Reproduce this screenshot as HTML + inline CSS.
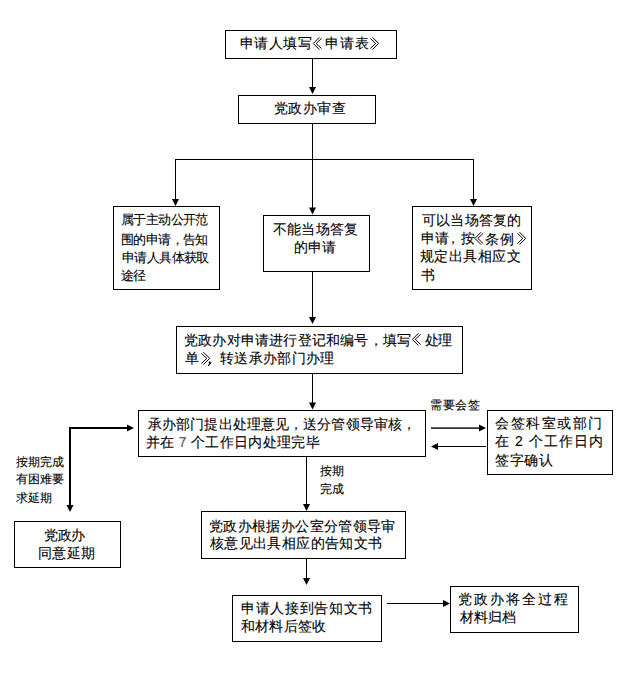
<!DOCTYPE html>
<html><head><meta charset="utf-8"><style>
html,body{margin:0;padding:0;background:#fff;}
body{width:629px;height:678px;position:relative;overflow:hidden;font-family:"Liberation Sans",sans-serif;color:#000;}
svg{position:absolute;left:0;top:0;}
.t{position:absolute;white-space:nowrap;line-height:20px;-webkit-text-stroke:0.1px #000;}
</style></head><body>
<svg width="629" height="678" viewBox="0 0 629 678">
<rect x="225.5" y="30.5" width="171" height="28" fill="none" stroke="#000" stroke-width="1"/>
<rect x="238.5" y="95.5" width="137" height="28" fill="none" stroke="#000" stroke-width="1"/>
<rect x="113.5" y="206.5" width="106" height="83" fill="none" stroke="#000" stroke-width="1"/>
<rect x="263.5" y="215.5" width="106" height="56" fill="none" stroke="#000" stroke-width="1"/>
<rect x="412.5" y="206.5" width="119" height="83" fill="none" stroke="#000" stroke-width="1"/>
<rect x="176.5" y="326.5" width="286" height="47" fill="none" stroke="#000" stroke-width="1"/>
<rect x="138.5" y="410.5" width="287" height="46" fill="none" stroke="#000" stroke-width="1"/>
<rect x="487.5" y="410.5" width="125" height="64" fill="none" stroke="#000" stroke-width="1"/>
<rect x="14.5" y="521.5" width="106" height="46" fill="none" stroke="#000" stroke-width="1"/>
<rect x="201.5" y="511.5" width="204" height="47" fill="none" stroke="#000" stroke-width="1"/>
<rect x="232.5" y="595.5" width="149" height="46" fill="none" stroke="#000" stroke-width="1"/>
<rect x="450.5" y="586.5" width="128" height="46" fill="none" stroke="#000" stroke-width="1"/>
<rect x="312" y="58" width="1" height="31" fill="#000"/>
<rect x="312" y="123" width="1" height="86" fill="#000"/>
<rect x="175" y="159" width="299" height="1" fill="#000"/>
<rect x="175" y="159" width="1" height="42" fill="#000"/>
<rect x="473" y="159" width="1" height="42" fill="#000"/>
<rect x="312" y="271" width="1" height="48" fill="#000"/>
<rect x="312" y="373" width="1" height="31" fill="#000"/>
<rect x="431" y="427.4" width="50" height="1.4" fill="#000"/>
<rect x="437" y="446" width="49" height="1" fill="#000"/>
<rect x="69" y="427" width="60" height="2" fill="#000"/>
<rect x="69" y="427" width="2" height="80" fill="#000"/>
<rect x="306" y="456" width="1" height="50" fill="#000"/>
<rect x="306" y="558" width="1" height="22" fill="#000"/>
<rect x="387" y="603" width="58" height="1" fill="#000"/>
<polygon points="309.0,87 316.0,87 312.5,94" fill="#000"/>
<polygon points="309.0,207.5 316.0,207.5 312.5,214.5" fill="#000"/>
<polygon points="172.0,199 179.0,199 175.5,206" fill="#000"/>
<polygon points="470.0,199 477.0,199 473.5,206" fill="#000"/>
<polygon points="309.0,317 316.0,317 312.5,324" fill="#000"/>
<polygon points="309.0,402.5 316.0,402.5 312.5,409.5" fill="#000"/>
<polygon points="479,424.5 479,431.5 486,428" fill="#000"/>
<polygon points="438,443.0 438,450.0 431,446.5" fill="#000"/>
<polygon points="127,424.5 127,431.5 134,428" fill="#000"/>
<polygon points="66.5,505 73.5,505 70,512" fill="#000"/>
<polygon points="303.0,504 310.0,504 306.5,511" fill="#000"/>
<polygon points="303.0,578 310.0,578 306.5,585" fill="#000"/>
<polygon points="443,600.0 443,607.0 450,603.5" fill="#000"/>
<polyline points="319.45,37.25 313.25,43.45 319.45,49.650000000000006" fill="none" stroke="#000" stroke-width="1"/>
<polyline points="321.55,38.35 316.15,43.45 321.55,48.550000000000004" fill="none" stroke="#000" stroke-width="1"/>
<polyline points="372.40000000000003,37.25 378.6,43.45 372.40000000000003,49.650000000000006" fill="none" stroke="#000" stroke-width="1"/>
<polyline points="370.3,38.35 375.70000000000005,43.45 370.3,48.550000000000004" fill="none" stroke="#000" stroke-width="1"/>
<polyline points="481.09999999999997,232.20000000000002 474.9,238.4 481.09999999999997,244.6" fill="none" stroke="#000" stroke-width="1"/>
<polyline points="483.2,233.3 477.79999999999995,238.4 483.2,243.5" fill="none" stroke="#000" stroke-width="1"/>
<polyline points="519.5,232.20000000000002 525.7,238.4 519.5,244.6" fill="none" stroke="#000" stroke-width="1"/>
<polyline points="517.4000000000001,233.3 522.8000000000001,238.4 517.4000000000001,243.5" fill="none" stroke="#000" stroke-width="1"/>
<polyline points="418.5,333.2 412.3,339.4 418.5,345.59999999999997" fill="none" stroke="#000" stroke-width="1"/>
<polyline points="420.6,334.29999999999995 415.2,339.4 420.6,344.5" fill="none" stroke="#000" stroke-width="1"/>
<polyline points="203.5,352.2 209.7,358.4 203.5,364.59999999999997" fill="none" stroke="#000" stroke-width="1"/>
<polyline points="201.39999999999998,353.29999999999995 206.79999999999998,358.4 201.39999999999998,363.5" fill="none" stroke="#000" stroke-width="1"/>
<circle cx="209.9" cy="362.6" r="1.2" fill="#000"/><path d="M210.6,362.8 L208.2,365.8" stroke="#000" stroke-width="1.1" fill="none"/>
</svg>
<div class="t" style="left:240px;top:33px;font-size:14px;letter-spacing:0.45px">申请人填写</div>
<div class="t" style="left:325px;top:33px;font-size:14px;letter-spacing:1.0px">申请表</div>
<div class="t" style="left:274px;top:98px;font-size:14px;letter-spacing:0.45px">党政办审查</div>
<div class="t" style="left:121px;top:210px;font-size:13px;letter-spacing:-0.6px">属于主动公开范</div>
<div class="t" style="left:121px;top:230px;font-size:13px;letter-spacing:-0.6px">围的申请，告知</div>
<div class="t" style="left:122px;top:248px;font-size:13px;letter-spacing:-0.6px">申请人具体获取</div>
<div class="t" style="left:121px;top:266px;font-size:13px;letter-spacing:-0.6px">途径</div>
<div class="t" style="left:273px;top:219px;font-size:14px;letter-spacing:0.24px">不能当场答复</div>
<div class="t" style="left:294px;top:237px;font-size:14px;letter-spacing:0.0px">的申请</div>
<div class="t" style="left:422px;top:210px;font-size:14px;letter-spacing:0.17px">可以当场答复的</div>
<div class="t" style="left:421px;top:228px;font-size:14px;letter-spacing:0.17px">申请</div>
<div class="t" style="left:446px;top:228px;font-size:14px;letter-spacing:0.0px">，</div>
<div class="t" style="left:461px;top:228px;font-size:14px;letter-spacing:0.0px">按</div>
<div class="t" style="left:485px;top:229px;font-size:14px;letter-spacing:1.0px">条例</div>
<div class="t" style="left:420px;top:246px;font-size:14px;letter-spacing:0.47px">规定出具相应文</div>
<div class="t" style="left:421px;top:265px;font-size:14px;letter-spacing:0.17px">书</div>
<div class="t" style="left:184px;top:330px;font-size:14px;letter-spacing:0.2px">党政办对申请进行登记和编号，填写</div>
<div class="t" style="left:425px;top:330px;font-size:14px;letter-spacing:-0.6px">处理</div>
<div class="t" style="left:185px;top:348px;font-size:14px;letter-spacing:0.0px">单</div>
<div class="t" style="left:220px;top:348px;font-size:14px;letter-spacing:0.31px">转送承办部门办理</div>
<div class="t" style="left:148px;top:414px;font-size:14px;letter-spacing:0.11px">承办部门提出处理意见，送分管领导审核，</div>
<div class="t" style="left:146px;top:432px;font-size:14px;letter-spacing:0.31px">并在 <span style="color:#666">7</span> 个工作日内处理完毕</div>
<div class="t" style="left:495px;top:413px;font-size:14px;letter-spacing:1.53px">会签科室或部门</div>
<div class="t" style="left:495px;top:431px;font-size:14px;letter-spacing:1.05px">在 2 个工作日内</div>
<div class="t" style="left:495px;top:450px;font-size:14px;letter-spacing:0.53px">签字确认</div>
<div class="t" style="left:430px;top:395px;font-size:12px;letter-spacing:0.6px">需要会签</div>
<div class="t" style="left:16px;top:452px;font-size:12px;letter-spacing:0.13px">按期完成</div>
<div class="t" style="left:16px;top:469px;font-size:12px;letter-spacing:0.13px">有困难要</div>
<div class="t" style="left:16px;top:488px;font-size:12px;letter-spacing:0.13px">求延期</div>
<div class="t" style="left:44px;top:525px;font-size:14px;letter-spacing:-0.3px">党政办</div>
<div class="t" style="left:38px;top:543px;font-size:14px;letter-spacing:0.27px">同意延期</div>
<div class="t" style="left:320px;top:461px;font-size:12px;letter-spacing:0.4px">按期</div>
<div class="t" style="left:320px;top:479px;font-size:12px;letter-spacing:0.4px">完成</div>
<div class="t" style="left:209px;top:516px;font-size:14px;letter-spacing:0.37px">党政办根据办公室分管领导审</div>
<div class="t" style="left:210px;top:533px;font-size:14px;letter-spacing:0.37px">核意见出具相应的告知文书</div>
<div class="t" style="left:241px;top:598px;font-size:14px;letter-spacing:0.68px">申请人接到告知文书</div>
<div class="t" style="left:241px;top:616px;font-size:14px;letter-spacing:0.24px">和材料后签收</div>
<div class="t" style="left:458px;top:589px;font-size:14px;letter-spacing:2.07px">党政办将全过程</div>
<div class="t" style="left:460px;top:607px;font-size:14px;letter-spacing:0.07px">材料归档</div>
</body></html>
